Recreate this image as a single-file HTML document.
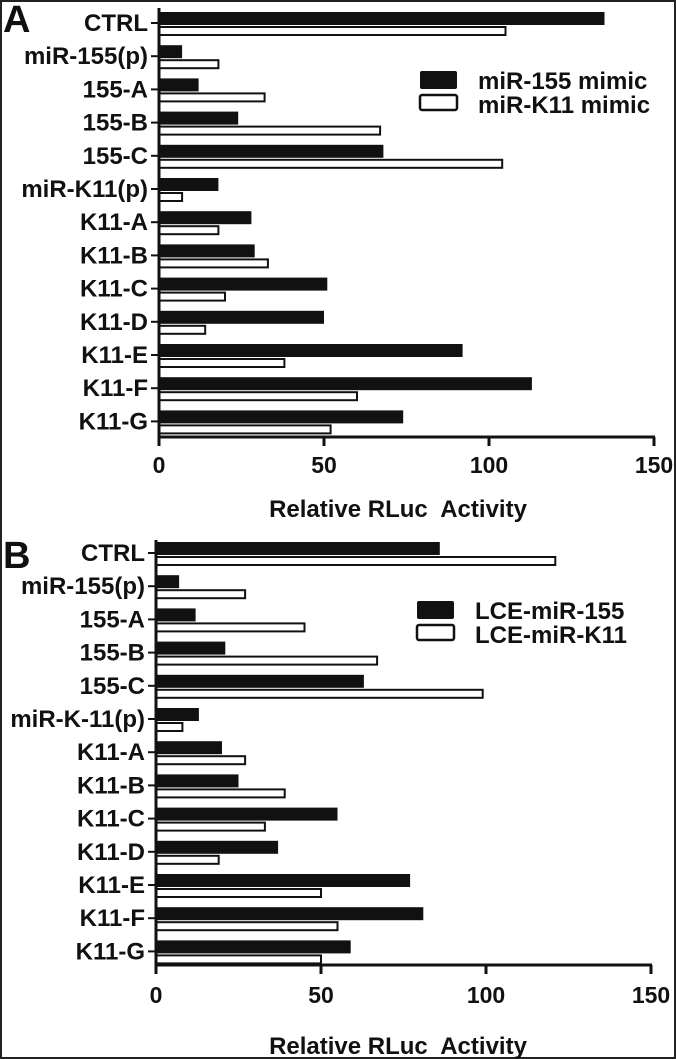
<!DOCTYPE html>
<html><head><meta charset="utf-8"><style>
html,body{margin:0;padding:0;background:#fff}
svg{display:block}
text{font-family:"Liberation Sans",Arial,sans-serif;font-weight:bold;fill:#111}
</style></head><body>
<svg id="fig" width="676" height="1059" viewBox="0 0 676 1059">
<rect x="1" y="1" width="674" height="1057" fill="#fff" stroke="#222" stroke-width="2"/>
</svg>
<script>
const categoriesA = ["CTRL","miR-155(p)","155-A","155-B","155-C","miR-K11(p)","K11-A","K11-B","K11-C","K11-D","K11-E","K11-F","K11-G"];
const mimic155A = [135,7,12,24,68,18,28,29,51,50,92,113,74];
const mimicK11A = [105,18,32,67,104,7,18,33,20,14,38,60,52];
const categoriesB = ["CTRL","miR-155(p)","155-A","155-B","155-C","miR-K-11(p)","K11-A","K11-B","K11-C","K11-D","K11-E","K11-F","K11-G"];
const lce155B = [86,7,12,21,63,13,20,25,55,37,77,81,59];
const lceK11B = [121,27,45,67,99,8,27,39,33,19,50,55,50];
const xTicks = [0,50,100,150];
const legendA = ["miR-155 mimic","miR-K11 mimic"];
const legendB = ["LCE-miR-155","LCE-miR-K11"];

const NS="http://www.w3.org/2000/svg";
const svg=document.getElementById('fig');
function mk(tag,attrs,parent){const e=document.createElementNS(NS,tag);for(const k in attrs)e.setAttribute(k,attrs[k]);(parent||svg).appendChild(e);return e;}

function panel(p){
  const g=mk('g',{});
  
  
  const x=v=>p.x0+(v/150)*(p.x1-p.x0);
  const y=i=>p.yFirst+i*p.step;
  const L=mk('text',{x:p.letterX,y:p.letterY,'font-size':38},g);L.textContent=p.letter;
  
  
  p.cats.forEach((c,i)=>{
    const cy=y(i);
    const b=mk('rect',{x:x(0),y:cy-11,width:x(p.s1[i])-x(0),height:13,fill:'#111'},g);
    
    
    const w=mk('rect',{x:x(0),y:cy+4,width:x(p.s2[i])-x(0),height:8,fill:'#fff',stroke:'#111','stroke-width':2},g);
    
    
    mk('line',{x1:p.x0-8,x2:p.x0,y1:cy,y2:cy,stroke:'#111','stroke-width':2},g);
    const t=mk('text',{x:p.x0-11,y:cy+8,'font-size':24,'text-anchor':'end'},g);t.textContent=c;
    
    
  });
  mk('line',{x1:p.x0,x2:p.x0,y1:p.yTop,y2:p.axisY+9,stroke:'#111','stroke-width':3},g);
  mk('line',{x1:p.x0,x2:x(150)+1,y1:p.axisY,y2:p.axisY,stroke:'#111','stroke-width':3},g);
  xTicks.forEach(v=>{
    mk('line',{x1:x(v),x2:x(v),y1:p.axisY,y2:p.axisY+9,stroke:'#111','stroke-width':3},g);
    const t=mk('text',{x:x(v),y:p.tickY,'font-size':23,'text-anchor':'middle'},g);t.textContent=v;
    
    
  });
  const tt=mk('text',{x:398,y:p.titleY,'font-size':24,'text-anchor':'middle'},g);tt.textContent='Relative RLuc\u00a0 Activity';
  
  
  p.legend.forEach((lab,k)=>{
    const ly=p.legY+k*24;
    const r=mk('rect',{x:p.legX,y:ly,width:37,height:k?15:18,fill:k?'#fff':'#111',stroke:'#111','stroke-width':k?2.5:0,rx:2},g);
    
    
    const t=mk('text',{x:p.legX+58,y:ly+18,'font-size':24},g);t.textContent=lab;
    
    
  });
}
panel({id:'a',letter:'A',letterX:3,letterY:32,cats:categoriesA,s1:mimic155A,s2:mimicK11A,x0:159,x1:654,yFirst:23,step:33.2,yTop:8,axisY:437,tickY:473,titleY:517,legend:legendA,legX:420,legY:71});
panel({id:'b',letter:'B',letterX:3,letterY:568,cats:categoriesB,s1:lce155B,s2:lceK11B,x0:156,x1:651,yFirst:553,step:33.2,yTop:540,axisY:965,tickY:1003,titleY:1054,legend:legendB,legX:417,legY:601});
</script>
</body></html>
